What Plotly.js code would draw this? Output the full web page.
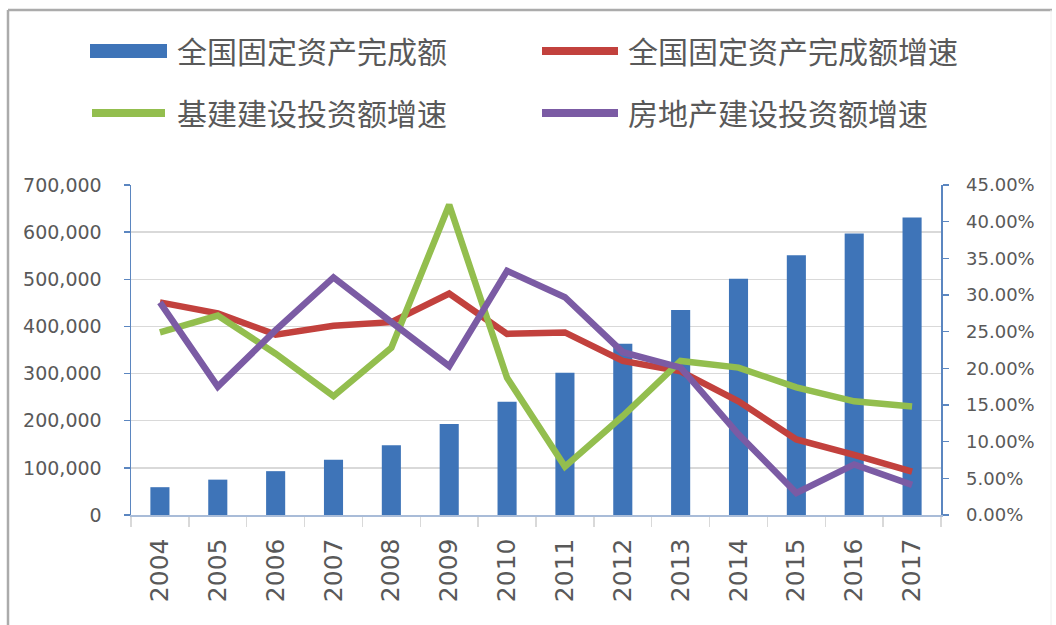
<!DOCTYPE html>
<html>
<head>
<meta charset="utf-8">
<script src="https://cdn.plot.ly/plotly-3.0.1.min.js"></script>
<style>
html,body{margin:0;padding:0;background:#fff;}
#chart{width:1056px;height:625px;}
</style>
</head>
<body>
<div id="chart"></div>
<script>
// ---- data ----
var years = ['2004','2005','2006','2007','2008','2009','2010','2011','2012','2013','2014','2015','2016','2017'];
var faiTotal = [59000, 75000, 93000, 117000, 148000, 193000, 240000, 302000, 363000, 435000, 501000, 551000, 597000, 631000];
var faiGrowth = [0.290, 0.275, 0.246, 0.258, 0.263, 0.302, 0.247, 0.249, 0.210, 0.196, 0.155, 0.103, 0.082, 0.059];
var infraGrowth = [0.249, 0.272, 0.220, 0.162, 0.228, 0.423, 0.187, 0.066, 0.135, 0.210, 0.201, 0.174, 0.155, 0.148];
var realEstateGrowth = [0.290, 0.175, 0.252, 0.324, 0.263, 0.203, 0.333, 0.297, 0.222, 0.201, 0.110, 0.030, 0.069, 0.041];
var seriesNames = ['全国固定资产完成额', '全国固定资产完成额增速', '基建建设投资额增速', '房地产建设投资额增速'];
var colors = ['#3E74B8', '#C2413D', '#93BE4E', '#7B5BA4'];

// ---- layout geometry (pixels) ----
var W = 1056, H = 625;
var L = 131, R = 941, T = 185, B = 515;
function px(x){ return (x - L) / (R - L); }
function py(y){ return (B - y) / (B - T); }

var traces = [
  {type:'bar', x: years, y: faiTotal, name: seriesNames[0], marker:{color: colors[0]}, width: 0.33, yaxis:'y', showlegend:false},
  {type:'scatter', mode:'lines', x: years, y: faiGrowth, name: seriesNames[1], line:{color: colors[1], width:6.5}, yaxis:'y2', showlegend:false},
  {type:'scatter', mode:'lines', x: years, y: infraGrowth, name: seriesNames[2], line:{color: colors[2], width:6.5}, yaxis:'y2', showlegend:false},
  {type:'scatter', mode:'lines', x: years, y: realEstateGrowth, name: seriesNames[3], line:{color: colors[3], width:6.5}, yaxis:'y2', showlegend:false}
];

var tickFont = {family:'DejaVu Sans, sans-serif', size:19, color:'#595959'};
var tickFont2 = {family:'DejaVu Sans, sans-serif', size:18, color:'#595959'};
var legFont = {family:'Noto Sans CJK SC, sans-serif', size:30, color:'#595959'};

// custom legend
var shapes = [
  // outer frame
  {type:'line', xref:'paper', yref:'paper', x0:px(8), x1:px(1052), y0:py(10), y1:py(10), line:{color:'#ABABAB', width:2.5}},
  {type:'line', xref:'paper', yref:'paper', x0:px(8), x1:px(8), y0:py(10), y1:py(625), line:{color:'#ABABAB', width:2.5}},
  {type:'line', xref:'paper', yref:'paper', x0:px(1051), x1:px(1051), y0:py(10), y1:py(625), line:{color:'#EEEEEE', width:1}},
  // legend symbols
  {type:'rect', xref:'paper', yref:'paper', x0:px(90), x1:px(167), y0:py(44), y1:py(58), fillcolor:colors[0], line:{width:0}},
  {type:'line', xref:'paper', yref:'paper', x0:px(542), x1:px(618), y0:py(51), y1:py(51), line:{color:colors[1], width:8}},
  {type:'line', xref:'paper', yref:'paper', x0:px(92), x1:px(165), y0:py(113), y1:py(113), line:{color:colors[2], width:8}},
  {type:'line', xref:'paper', yref:'paper', x0:px(542), x1:px(618), y0:py(113), y1:py(113), line:{color:colors[3], width:8}}
];
var annotations = [
  {xref:'paper', yref:'paper', x:px(175), y:py(50), xanchor:'left', yanchor:'middle', text:seriesNames[0], showarrow:false, font:legFont},
  {xref:'paper', yref:'paper', x:px(626), y:py(50), xanchor:'left', yanchor:'middle', text:seriesNames[1], showarrow:false, font:legFont},
  {xref:'paper', yref:'paper', x:px(175), y:py(112), xanchor:'left', yanchor:'middle', text:seriesNames[2], showarrow:false, font:legFont},
  {xref:'paper', yref:'paper', x:px(626), y:py(112), xanchor:'left', yanchor:'middle', text:seriesNames[3], showarrow:false, font:legFont}
];

var layout = {
  width: W, height: H,
  margin: {l: L, r: W - R, t: T, b: H - B, pad: 0},
  paper_bgcolor: '#fff', plot_bgcolor: '#fff',
  showlegend: false,
  xaxis: {
    type:'category', tickangle: -90, tickfont: {family:'DejaVu Sans, sans-serif', size:25, color:'#595959'},
    showline: true, linecolor: '#A9BCD8', linewidth: 1.5,
    ticks: 'outside', tickson: 'boundaries', ticklen: 10, tickcolor: '#D9D9D9', tickwidth: 1.5,
    showgrid: false, zeroline: false, ticklabelstandoff: 12
  },
  yaxis: {
    range: [0, 700000], dtick: 100000, tickformat: ',d', tickfont: tickFont,
    showline: true, linecolor: '#5B86C0', linewidth: 1.5,
    ticks: 'outside', ticklen: 6, tickcolor: '#5B86C0', tickwidth: 1.5,
    showgrid: true, gridcolor: '#D9D9D9', gridwidth: 1.5, zeroline: false, ticklabelstandoff: 18
  },
  yaxis2: {
    overlaying: 'y', side: 'right', range: [0, 0.45], dtick: 0.05, tickformat: '.2%', tickfont: tickFont2,
    showline: true, linecolor: '#5B86C0', linewidth: 1.5,
    ticks: 'outside', ticklen: 6, tickcolor: '#5B86C0', tickwidth: 1.5,
    showgrid: false, zeroline: false, ticklabelstandoff: 14
  },
  shapes: shapes,
  annotations: annotations
};

Plotly.newPlot('chart', traces, layout, {displayModeBar:false, staticPlot:true});
</script>
</body>
</html>
